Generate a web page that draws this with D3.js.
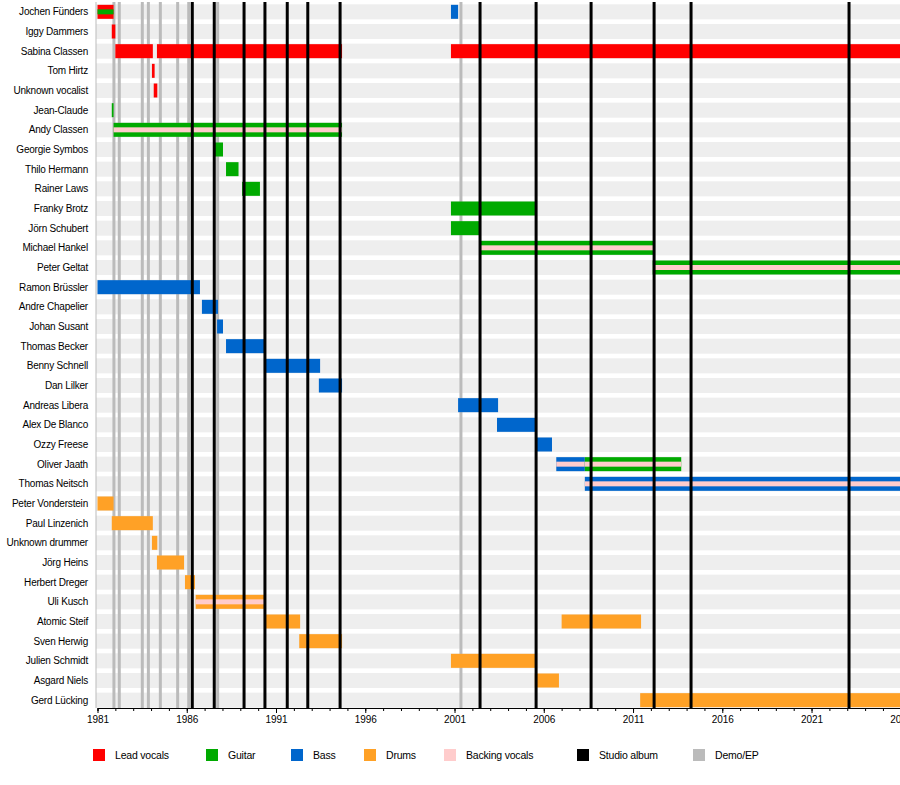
<!DOCTYPE html>
<html><head><meta charset="utf-8">
<script src="https://cdn.jsdelivr.net/npm/d3@7"></script>
<style>body{margin:0;background:#fff;font-family:"Liberation Sans",Arial,sans-serif;}</style>
</head><body><div id="chart"></div>
<script>
// members top to bottom
const members = ["Jochen Fünders","Iggy Dammers","Sabina Classen","Tom Hirtz","Unknown vocalist","Jean-Claude",
  "Andy Classen","Georgie Symbos","Thilo Hermann","Rainer Laws","Franky Brotz","Jörn Schubert","Michael Hankel",
  "Peter Geltat","Ramon Brüssler","Andre Chapelier","Johan Susant","Thomas Becker","Benny Schnell","Dan Lilker",
  "Andreas Libera","Alex De Blanco","Ozzy Freese","Oliver Jaath","Thomas Neitsch","Peter Vonderstein",
  "Paul Linzenich","Unknown drummer","Jörg Heins","Herbert Dreger","Uli Kusch","Atomic Steif","Sven Herwig",
  "Julien Schmidt","Asgard Niels","Gerd Lücking"];

// [member, role, start, end, second role in middle stripe]
const spans = [
  ["Jochen Fünders","vocals",1981,1981.9,"guitar"],
  ["Jochen Fünders","bass",2000.8,2001.2,null],
  ["Iggy Dammers","vocals",1981.8,1982.0,null],
  ["Sabina Classen","vocals",1982.0,1984.1,null],
  ["Sabina Classen","vocals",1984.33,1994.7,null],
  ["Sabina Classen","vocals",2000.8,2026.1,null],
  ["Tom Hirtz","vocals",1984.05,1984.2,null],
  ["Unknown vocalist","vocals",1984.15,1984.35,null],
  ["Jean-Claude","guitar",1981.8,1981.9,null],
  ["Andy Classen","guitar",1981.9,1994.7,"backing"],
  ["Georgie Symbos","guitar",1987.47,1988.03,null],
  ["Thilo Hermann","guitar",1988.2,1988.9,null],
  ["Rainer Laws","guitar",1989.1,1990.1,null],
  ["Franky Brotz","guitar",2000.8,2005.57,null],
  ["Jörn Schubert","guitar",2000.8,2002.4,null],
  ["Michael Hankel","guitar",2002.4,2012.2,"backing"],
  ["Peter Geltat","guitar",2012.1,2026.1,"backing"],
  ["Ramon Brüssler","bass",1981,1986.74,null],
  ["Andre Chapelier","bass",1986.85,1987.75,null],
  ["Johan Susant","bass",1987.7,1988.03,null],
  ["Thomas Becker","bass",1988.2,1990.38,null],
  ["Benny Schnell","bass",1990.44,1993.47,null],
  ["Dan Lilker","bass",1993.4,1994.7,null],
  ["Andreas Libera","bass",2001.2,2003.44,null],
  ["Alex De Blanco","bass",2003.38,2005.57,null],
  ["Ozzy Freese","bass",2005.57,2006.46,null],
  ["Oliver Jaath","bass",2006.7,2008.3,"backing"],
  ["Oliver Jaath","guitar",2008.3,2013.7,"backing"],
  ["Thomas Neitsch","bass",2008.3,2026.1,"backing"],
  ["Peter Vonderstein","drums",1981,1981.9,null],
  ["Paul Linzenich","drums",1981.8,1984.1,null],
  ["Unknown drummer","drums",1984.05,1984.35,null],
  ["Jörg Heins","drums",1984.33,1985.85,null],
  ["Herbert Dreger","drums",1985.9,1986.46,null],
  ["Uli Kusch","drums",1986.5,1990.38,"backing"],
  ["Atomic Steif","drums",1990.44,1992.35,null],
  ["Atomic Steif","drums",2007.0,2011.45,null],
  ["Sven Herwig","drums",1992.3,1994.7,null],
  ["Julien Schmidt","drums",2000.8,2005.57,null],
  ["Asgard Niels","drums",2005.5,2006.85,null],
  ["Gerd Lücking","drums",2011.4,2026.1,null]
];

const studioAlbums = [1986.31,1987.54,1989.21,1990.38,1991.63,1992.78,1994.59,2002.43,2005.57,2008.65,2012.18,2014.25,2023.1];
const demos = [1981.92,1982.22,1983.51,1983.85,1984.52,1985.49,1986.11,1987.73,2001.36];
const tickYears = [1981,1986,1991,1996,2001,2006,2011,2016,2021,2026];

const roles = ["vocals","guitar","bass","drums","backing"];
const roleColors = ["#ff0000","#00aa00","#0066cc","#ffa126","#ffcccc"];
const legendNames = ["Lead vocals","Guitar","Bass","Drums","Backing vocals","Studio album","Demo/EP"];
const legendColors = ["#ff0000","#00aa00","#0066cc","#ffa126","#ffcccc","#000000","#bbbbbb"];

const W = 900, H = 785;
const svg = d3.select("#chart").append("svg").attr("width", W).attr("height", H);

const x = d3.scaleLinear().domain([1981, 2026]).range([97.5, 900.8]);
const y = d3.scaleBand().domain(members).range([2, 710]).paddingInner(0);
const color = d3.scaleOrdinal().domain(roles).range(roleColors);
const bh = 14, step = y.bandwidth();

// row background stripes
svg.selectAll(".row").data(members).enter().append("rect")
  .attr("x", 96).attr("width", W - 96)
  .attr("y", d => y(d) + step / 2 - 7.5).attr("height", 15)
  .attr("fill", "#eeeeee");

// demo lines
svg.selectAll(".demo").data(demos).enter().append("line")
  .attr("x1", d => x(d)).attr("x2", d => x(d)).attr("y1", 2).attr("y2", 708)
  .attr("stroke", "#bbbbbb").attr("stroke-width", 3);

// spans
const g = svg.selectAll(".span").data(spans).enter().append("g");
g.append("rect")
  .attr("x", d => x(d[2])).attr("width", d => x(d[3]) - x(d[2]))
  .attr("y", d => y(d[0]) + step / 2 - bh / 2).attr("height", bh)
  .attr("fill", d => color(d[1]));
g.filter(d => d[4]).append("rect")
  .attr("x", d => x(d[2])).attr("width", d => x(d[3]) - x(d[2]))
  .attr("y", d => y(d[0]) + step / 2 - 2.5).attr("height", 5)
  .attr("fill", d => color(d[4]));

// studio album lines
svg.selectAll(".album").data(studioAlbums).enter().append("line")
  .attr("x1", d => x(d)).attr("x2", d => x(d)).attr("y1", 2).attr("y2", 708)
  .attr("stroke", "#000").attr("stroke-width", 3);

// left axis line
svg.append("line").attr("x1", 96).attr("x2", 96).attr("y1", 2).attr("y2", 708)
  .attr("stroke", "#bbbbbb").attr("stroke-width", 1);

// member names
svg.selectAll(".name").data(members).enter().append("text")
  .attr("x", 88).attr("y", d => y(d) + step / 2 + 3.5)
  .attr("text-anchor", "end").attr("font-size", 10).attr("letter-spacing", -0.2).attr("fill", "#000")
  .text(d => d);

// x axis
const axis = svg.append("g").attr("transform", "translate(0,708)");
axis.call(d3.axisBottom(x).tickValues(d3.range(1981, 2027)).tickSize(3).tickFormat(""))
  .call(a => a.select(".domain").attr("stroke", "#000"));
axis.append("g").call(d3.axisBottom(x).tickValues(tickYears).tickSize(5).tickFormat(d3.format("d")))
  .call(a => a.select(".domain").remove())
  .call(a => a.selectAll("text").attr("font-size", 10).attr("font-family", "Liberation Sans, Arial, sans-serif").attr("fill", "#000"));

// legend
const legX = [93, 206, 291, 364, 444, 577, 693];
const leg = svg.selectAll(".leg").data(legendNames).enter().append("g")
  .attr("transform", (d, i) => `translate(${legX[i]},749)`);
leg.append("rect").attr("width", 12).attr("height", 12).attr("fill", (d, i) => legendColors[i]);
leg.append("text").attr("x", 22).attr("y", 10).attr("font-size", 10.5).attr("letter-spacing", -0.2).text(d => d);
</script></body></html>
